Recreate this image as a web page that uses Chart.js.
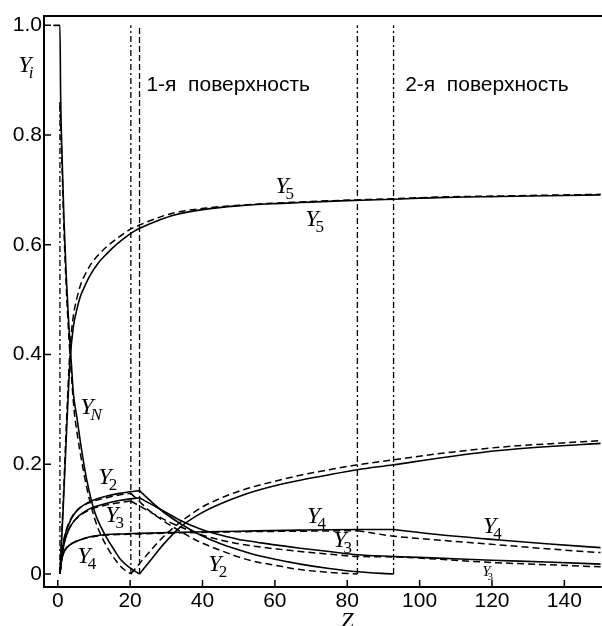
<!DOCTYPE html>
<html>
<head>
<meta charset="utf-8">
<script src="https://cdn.jsdelivr.net/npm/chart.js@4.4.1/dist/chart.umd.min.js"></script>
<style>
  html, body { margin: 0; padding: 0; background: #fff; }
</style>
</head>
<body>
<canvas id="myChart" width="602" height="626"></canvas>
<script>
// оси
const xTicks = [0, 20, 40, 60, 80, 100, 120, 140];
const yTicks = [0, 0.2, 0.4, 0.6, 0.8, 1.0];

// границы поверхностей
const wallZ = [0.6, 20.2, 22.6, 82.8, 92.8];
const wallTop = [0.86, 1.0, 1.0, 1.0, 1.0];

// Y_N
const zNSolid = [-1.2, 0.6, 0.8, 1.2, 1.7, 2.3, 3.0, 3.8, 4.3, 5.3, 6.5, 8, 10.3, 12, 13.6, 15.5, 17.2, 20, 22.6];
const yNSolid = [1.0, 1.0, 0.87, 0.76, 0.65, 0.55, 0.46, 0.38, 0.33, 0.285, 0.23, 0.172, 0.111, 0.085, 0.065, 0.045, 0.028, 0.011, 0];
const zNDashed = [0.6, 1.2, 1.7, 2.3, 3.0, 3.8, 4.5, 5.5, 6.5, 8, 10, 12, 14, 16, 18, 20.2];
const yNDashed = [0.86, 0.74, 0.63, 0.53, 0.44, 0.36, 0.30, 0.25, 0.21, 0.158, 0.105, 0.07, 0.045, 0.025, 0.01, 0];

// Y5
const z5 = [0.6, 1.5, 2.5, 3.4, 4.3, 5.2, 6.2, 7.5, 9, 11, 13.6, 16.5, 20, 22.6, 28, 32, 41, 50, 60, 67, 78, 92.8, 105, 122, 150];
const y5Solid = [0, 0.12, 0.27, 0.39, 0.45, 0.48, 0.505, 0.525, 0.545, 0.565, 0.584, 0.602, 0.62, 0.63, 0.645, 0.654, 0.665, 0.671, 0.675, 0.677, 0.68, 0.683, 0.686, 0.688, 0.691];
const y5Dashed = [0, 0.13, 0.29, 0.41, 0.47, 0.5, 0.525, 0.545, 0.563, 0.58, 0.597, 0.612, 0.628, 0.636, 0.65, 0.658, 0.667, 0.672, 0.676, 0.678, 0.681, 0.684, 0.687, 0.689, 0.692];

// Y2, Y3 до первой поверхности
const zInSolid = [0.6, 1.2, 2, 3, 4.3, 6, 8, 10, 13.6, 17, 20, 22.6];
const zInDashed = [0.6, 1.2, 2, 3, 4.3, 6, 8, 10, 13.6, 17, 20.2];
const y2InSolid = [0, 0.04, 0.07, 0.09, 0.107, 0.12, 0.129, 0.135, 0.142, 0.147, 0.15, 0.152];
const y2InDashed = [0, 0.042, 0.072, 0.092, 0.108, 0.12, 0.128, 0.133, 0.139, 0.144, 0.147];
const y3InSolid = [0, 0.035, 0.062, 0.08, 0.095, 0.107, 0.116, 0.122, 0.129, 0.134, 0.137, 0.139];
const y3InDashed = [0, 0.036, 0.063, 0.081, 0.095, 0.106, 0.114, 0.12, 0.126, 0.13, 0.133];

// Y2 после первой поверхности
const z2OutSolid = [22.6, 25, 27, 29.2, 33.8, 39.4, 45, 50, 55, 60, 67, 75, 82.8, 92.8];
const y2OutSolid = [0.152, 0.137, 0.125, 0.113, 0.092, 0.071, 0.055, 0.044, 0.034, 0.027, 0.018, 0.01, 0.004, 0];
const z2OutDashed = [20.2, 22.6, 25, 29.2, 33.8, 39.4, 45, 50, 55, 60, 67, 75, 82.8];
const y2OutDashed = [0.147, 0.132, 0.117, 0.097, 0.078, 0.058, 0.043, 0.031, 0.022, 0.016, 0.008, 0.003, 0];

// Y3 после первой поверхности
const z3OutSolid = [22.6, 25, 29.2, 33.8, 39.4, 45, 50, 55, 60, 67, 75, 82.8, 92.8, 105, 120, 135, 150];
const y3OutSolid = [0.139, 0.13, 0.115, 0.098, 0.082, 0.071, 0.063, 0.058, 0.053, 0.047, 0.041, 0.035, 0.032, 0.029, 0.025, 0.022, 0.018];
const z3OutDashed = [20.2, 22.6, 25, 29.2, 33.8, 39.4, 45, 50, 55, 60, 67, 75, 82.8, 92.8, 105, 120, 135, 150];
const y3OutDashed = [0.133, 0.124, 0.115, 0.1, 0.086, 0.072, 0.062, 0.055, 0.05, 0.046, 0.041, 0.036, 0.032, 0.031, 0.027, 0.021, 0.017, 0.013];

// Y4
const z4InSolid = [0.6, 1, 1.6, 2.5, 4.3, 6.5, 9, 13.6, 18, 22.6, 34, 50, 67, 82.8, 92.8];
const y4InSolid = [0, 0.022, 0.038, 0.048, 0.057, 0.063, 0.068, 0.072, 0.073, 0.074, 0.076, 0.078, 0.08, 0.081, 0.081];
const z4InDashed = [0.6, 1, 1.6, 2.5, 4.3, 6.5, 9, 13.6, 18, 22.6, 34, 50, 67, 82.8];
const y4InDashed = [0, 0.023, 0.039, 0.049, 0.057, 0.063, 0.067, 0.071, 0.072, 0.073, 0.075, 0.077, 0.078, 0.079];
const z4OutSolid = [92.8, 105, 122, 135, 150];
const y4OutSolid = [0.081, 0.072, 0.062, 0.055, 0.048];
const z4OutDashed = [82.8, 92.8, 105, 122, 135, 150];
const y4OutDashed = [0.079, 0.069, 0.062, 0.053, 0.046, 0.039];

// растущая кривая после первой поверхности
const zRiseSolid = [22.6, 26, 29.2, 33.8, 39.4, 45, 52, 60, 67, 75, 82.8, 92.8, 105, 122, 135, 150];
const yRiseSolid = [0, 0.028, 0.054, 0.085, 0.11, 0.128, 0.146, 0.161, 0.171, 0.181, 0.19, 0.199, 0.211, 0.225, 0.232, 0.238];
const zRiseDashed = [20.2, 24, 29.2, 33.8, 39.4, 45, 52, 60, 67, 75, 82.8, 92.8, 105, 122, 135, 150];
const yRiseDashed = [0, 0.03, 0.068, 0.094, 0.12, 0.138, 0.155, 0.169, 0.18, 0.19, 0.199, 0.208, 0.219, 0.231, 0.237, 0.243];

function curve(z, v, dashed) {
  return {
    data: z.map((x, i) => ({ x: x, y: v[i] })),
    showLine: true,
    borderColor: "#000",
    borderWidth: dashed ? 1.5 : 1.6,
    borderDash: dashed ? [7, 4] : [],
    pointRadius: 0,
    cubicInterpolationMode: "monotone",
    fill: false,
  };
}

const datasets = [
  curve(zNSolid, yNSolid, false),
  curve(zNDashed, yNDashed, true),
  curve(z5, y5Solid, false),
  curve(z5, y5Dashed, true),
  curve(zInSolid, y2InSolid, false),
  curve(zInDashed, y2InDashed, true),
  curve(zInSolid, y3InSolid, false),
  curve(zInDashed, y3InDashed, true),
  curve(z2OutSolid, y2OutSolid, false),
  curve(z2OutDashed, y2OutDashed, true),
  curve(z3OutSolid, y3OutSolid, false),
  curve(z3OutDashed, y3OutDashed, true),
  curve(z4InSolid, y4InSolid, false),
  curve(z4InDashed, y4InDashed, true),
  curve(z4OutSolid, y4OutSolid, false),
  curve(z4OutDashed, y4OutDashed, true),
  curve(zRiseSolid, yRiseSolid, false),
  curve(zRiseDashed, yRiseDashed, true),
];

wallZ.forEach((z, i) => {
  datasets.push({
    data: [{ x: z, y: 0 }, { x: z, y: wallTop[i] }],
    showLine: true,
    borderColor: "#000",
    borderWidth: 1.3,
    borderDash: i === 2 ? [6, 3] : [6, 3, 2, 3],
    pointRadius: 0,
  });
});

// подписи кривых (в координатах данных)
const curveLabels = [
  { z: 60.1, y: 0.694, sub: "5" },
  { z: 68.4, y: 0.634, sub: "5" },
  { z: 6.2, y: 0.292, sub: "N", it: true },
  { z: 11.2, y: 0.164, sub: "2" },
  { z: 13.1, y: 0.095, sub: "3" },
  { z: 5.4, y: 0.02, sub: "4" },
  { z: 41.6, y: 0.0055, sub: "2" },
  { z: 68.9, y: 0.093, sub: "4" },
  { z: 76.1, y: 0.049, sub: "3" },
  { z: 117.5, y: 0.075, sub: "4" },
  { z: 117.3, y: -0.004, sub: "3", size: 15 },
  { z: -10.9, y: 0.915, sub: "i", it: true },
];

function drawY(ctx, px, py, sub, subItalic, size) {
  ctx.font = `italic ${size}px "Liberation Serif"`;
  ctx.fillText("Y", px, py);
  const w = ctx.measureText("Y").width;
  ctx.font = `${subItalic ? "italic " : ""}${Math.round(size * 0.72)}px "Liberation Serif"`;
  ctx.fillText(sub, px + w - 3, py + size * 0.25);
}

const annotations = {
  id: "annotations",
  afterDraw(chart) {
    const { ctx, chartArea: a, scales } = chart;
    const xs = scales.x;
    const ys = scales.y;
    ctx.save();
    ctx.strokeStyle = "#000";
    ctx.lineWidth = 2;
    ctx.beginPath();
    ctx.moveTo(a.left, a.top);
    ctx.lineTo(a.right, a.top);
    ctx.stroke();

    // засечки внутрь
    ctx.lineWidth = 1.5;
    ctx.beginPath();
    xTicks.forEach((v) => {
      const px = xs.getPixelForValue(v);
      ctx.moveTo(px, a.bottom);
      ctx.lineTo(px, a.bottom - 7);
    });
    yTicks.forEach((v) => {
      const py = ys.getPixelForValue(v);
      ctx.moveTo(a.left, py);
      ctx.lineTo(a.left + 7, py);
    });
    ctx.stroke();

    ctx.fillStyle = "#000";
    ctx.textAlign = "left";
    ctx.textBaseline = "alphabetic";
    curveLabels.forEach((l) => {
      drawY(ctx, xs.getPixelForValue(l.z), ys.getPixelForValue(l.y), l.sub, l.it, l.size || 24);
    });

    ctx.font = '21px "Liberation Sans"';
    ctx.fillText("1-я  поверхность", xs.getPixelForValue(24.5), ys.getPixelForValue(0.881));
    ctx.fillText("2-я  поверхность", xs.getPixelForValue(96.0), ys.getPixelForValue(0.881));

    ctx.textAlign = "center";
    ctx.font = 'italic 23px "Liberation Serif"';
    ctx.fillText("Z", xs.getPixelForValue(80), ys.getPixelForValue(-0.0984));
    ctx.restore();
  },
};

const tickFont = { family: '"Liberation Sans", Arial, sans-serif', size: 21 };

const canvas = document.getElementById("myChart");
new Chart(canvas, {
  type: "scatter",
  data: { datasets: datasets },
  options: {
    responsive: false,
    animation: false,
    devicePixelRatio: 1,
    layout: { padding: { top: 16, left: 0, right: 0, bottom: 0 } },
    plugins: { legend: { display: false }, tooltip: { enabled: false } },
    scales: {
      x: {
        type: "linear",
        min: -3.8,
        max: 150.4,
        afterBuildTicks: (s) => {
          s.ticks = xTicks.map((v) => ({ value: v }));
        },
        afterFit: (s) => {
          s.height = 39;
        },
        grid: { display: false, drawTicks: false },
        border: { display: true, color: "#000", width: 2 },
        ticks: { color: "#000", font: tickFont, padding: 2, maxRotation: 0, autoSkip: false },
      },
      y: {
        type: "linear",
        min: -0.0237,
        max: 1.017,
        afterBuildTicks: (s) => {
          s.ticks = yTicks.map((v) => ({ value: v }));
        },
        afterFit: (s) => {
          s.width = 44;
        },
        grid: { display: false, drawTicks: false },
        border: { display: true, color: "#000", width: 2 },
        ticks: {
          color: "#000",
          font: tickFont,
          padding: 2,
          autoSkip: false,
          callback: (v) => (v === 0 ? "0" : v.toFixed(1)),
        },
      },
    },
  },
  plugins: [annotations],
});
</script>
</body>
</html>
